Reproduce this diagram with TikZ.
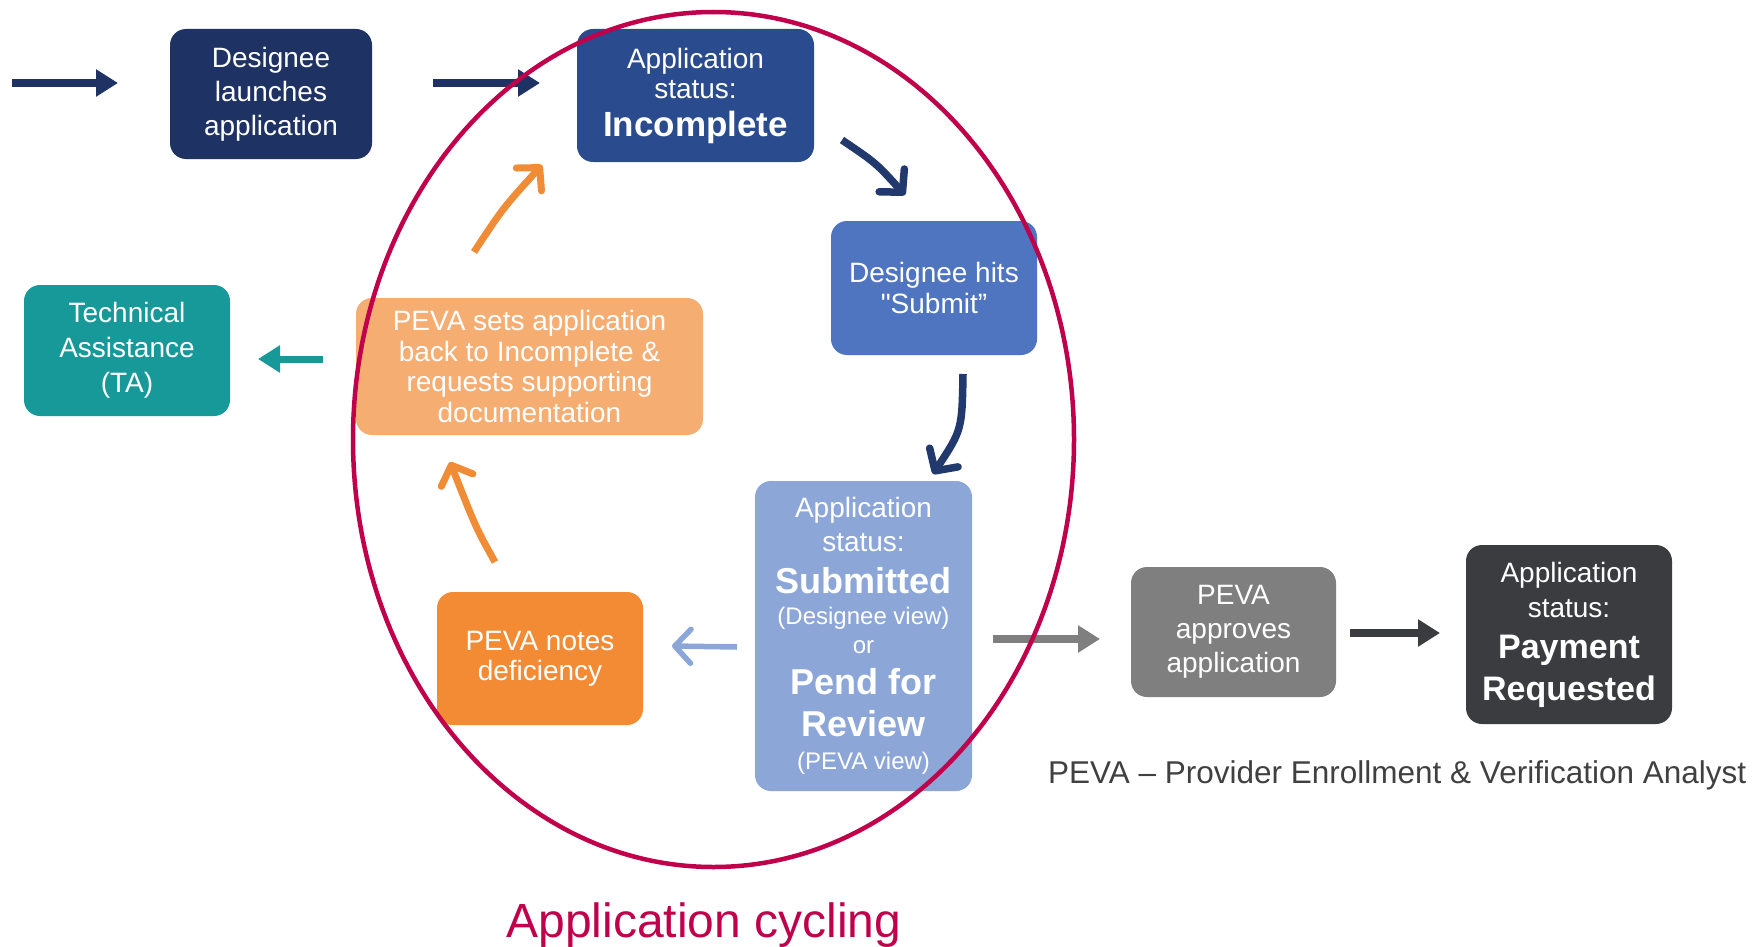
\documentclass[tikz,border=0pt]{standalone}
\usepackage{fontspec}
\setmainfont{Liberation Sans}
\usetikzlibrary{arrows.meta}
\definecolor{navyA}{HTML}{1F3264}
\definecolor{blueB}{HTML}{2A4B8D}
\definecolor{blueC}{HTML}{4F74C0}
\definecolor{blueD}{HTML}{8CA6D8}
\definecolor{orangeA}{HTML}{F38A34}
\definecolor{orangeB}{HTML}{F5AD72}
\definecolor{tealA}{HTML}{17999A}
\definecolor{grayA}{HTML}{7F7F7F}
\definecolor{darkA}{HTML}{3B3C40}
\definecolor{crimsonA}{HTML}{C0004A}
\definecolor{arrowNavy}{HTML}{22396E}
\definecolor{arrowOrange}{HTML}{F08C36}
\definecolor{noteGray}{HTML}{404040}
\newcommand\fsz[2]{\fontsize{#1}{#2}\selectfont}
\newcommand\straightquote{\XeTeXglyph\XeTeXglyphindex"quotedbl"\relax}
\tikzset{
  box/.style={rectangle, rounded corners=16pt, inner sep=0pt, align=center, text=white},
  fat/.style={line width=8pt, -{Triangle[length=22pt,width=26pt]}},
  barb/.style={line width=7.5pt, -{Straight Barb[length=16pt,width=34pt,round]}},
}
\begin{document}
\begin{tikzpicture}[x=1pt,y=-1pt]
\useasboundingbox[fill=white] (0,0) rectangle (1758,947);

% boxes
\node[box, fill=navyA, minimum width=202pt, minimum height=130pt, font=\fsz{28}{34}] (launch) at (271,94) {Designee\\launches\\application};
\node[box, fill=blueB, minimum width=237pt, minimum height=133pt, font=\fsz{28}{30}] (incomplete) at (695.5,95.5) {Application\\status:\\[8pt]\bfseries\fsz{35}{35}Incomplete};
\node[box, fill=blueC, minimum width=206pt, minimum height=134pt, font=\fsz{28}{31}] (submit) at (934,288) {Designee hits\\\straightquote Submit”};
\node[box, fill=blueD, minimum width=217pt, minimum height=310pt, font=\fsz{28}{29}] (submitted) at (863.5,636) {Application\\[5pt]status:\\[13pt]\bfseries\fsz{36}{36}Submitted\\[2pt]\fsz{24}{24}(Designee view)\\\fsz{24}{24}or\\[12pt]\bfseries\fsz{36}{36}Pend for\\[13pt]\bfseries\fsz{36}{36}Review\\[4pt]\fsz{24}{24}(PEVA view)};
\node[box, fill=orangeA, minimum width=206pt, minimum height=133pt, font=\fsz{28}{30}] (notes) at (540,658.5) {PEVA notes\\deficiency};
\node[box, fill=orangeB, minimum width=347pt, minimum height=137pt, font=\fsz{28}{30.5}] (sets) at (529.5,366.5) {PEVA sets application\\back to Incomplete \&\\requests supporting\\documentation};
\node[box, fill=tealA, minimum width=206pt, minimum height=131pt, font=\fsz{28}{35}] (ta) at (127,350.5) {Technical\\Assistance\\(TA)};
\node[box, fill=grayA, minimum width=205pt, minimum height=130pt, font=\fsz{28}{34}] (approves) at (1233.5,632) {PEVA\\approves\\application};
\node[box, fill=darkA, minimum width=206pt, minimum height=179pt, font=\fsz{28}{34}] (payment) at (1569,634.5) {Application\\[1pt]status:\\[7pt]\bfseries\fsz{34}{34}Payment\\[8pt]\bfseries\fsz{34}{34}Requested};

% free arrow ends
\coordinate (s1) at (12,83);    \coordinate (e1) at (118,83);
\coordinate (s2) at (433,83);   \coordinate (e2) at (540,83);
\coordinate (s3) at (842,140);  \coordinate (e3) at (905,195);
\coordinate (s4) at (963,374);  \coordinate (e4) at (933,474);
\coordinate (s5) at (737,647);  \coordinate (e5) at (672,646);
\coordinate (s6) at (495,562);  \coordinate (e6) at (450,462);
\coordinate (s7) at (474,252);  \coordinate (e7) at (542,165);
\coordinate (s8) at (323,359);  \coordinate (e8) at (258,359);
\coordinate (s9) at (993,639);  \coordinate (e9) at (1100,639);
\coordinate (s10) at (1350,633); \coordinate (e10) at (1440,633);

% arrows
\draw[fat, draw=navyA, fill=navyA] (s1) -- (e1);
\draw[fat, draw=navyA, fill=navyA] (s2) -- (e2);
\draw[barb, draw=arrowNavy] (s3) .. controls (876,163) .. (e3);
\draw[barb, draw=arrowNavy] (s4) .. controls (962,430) .. (e4);
\draw[barb, draw=blueD, line width=5.5pt] (s5) -- (e5);
\draw[barb, draw=arrowOrange, line width=7pt] (s6) .. controls (476,528) .. (e6);
\draw[barb, draw=arrowOrange, line width=7pt] (s7) .. controls (503,208) .. (e7);
\draw[fat, draw=tealA, fill=tealA, line width=7pt] (s8) -- (e8);
\draw[fat, draw=grayA, fill=grayA] (s9) -- (e9);
\draw[fat, draw=darkA, fill=darkA] (s10) -- (e10);

% cycle ellipse
\draw[crimsonA, line width=4.5pt] (713.5,439.5) ellipse [x radius=360.5pt, y radius=427.5pt];

% labels
\node[anchor=base, text=crimsonA, font=\fsz{48}{48}, inner sep=0pt] (cycling) at (704,937) {Application cycling};
\node[anchor=base west, text=noteGray, font=\fsz{31.5}{32}, inner sep=0pt] (legend) at (1048,783) {PEVA – Provider Enrollment \& Verification Analyst};
\end{tikzpicture}
\end{document}
